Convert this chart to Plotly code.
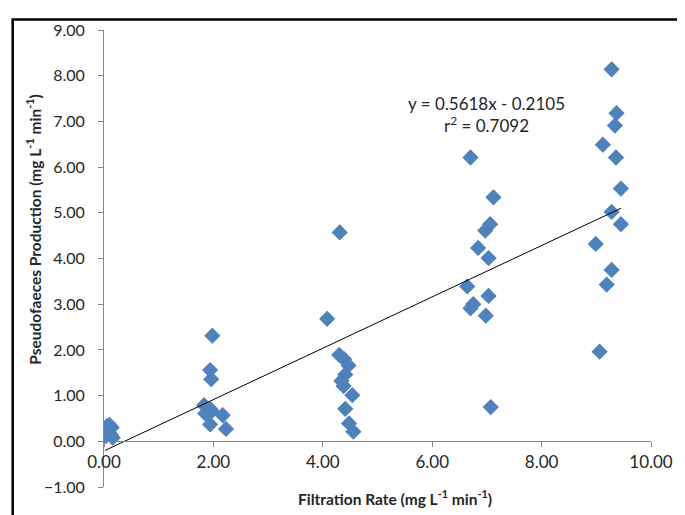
import plotly.graph_objects as go

# Filtration rate (x) and pseudofaeces production (y), mg L-1 min-1
filtration = [0.02, 0.05, 0.10, 0.14, 0.08, 0.12, 0.16, 0.04,
              1.98, 1.94, 1.96, 1.83, 1.94, 1.97, 1.85, 2.17, 1.94, 2.23,
              4.31, 4.08, 4.30, 4.39, 4.47, 4.41, 4.34, 4.38, 4.54, 4.41, 4.48, 4.56,
              6.70, 7.12, 7.06, 6.97, 6.84, 7.03, 6.64, 7.03, 6.75, 6.70, 6.98, 7.07,
              9.28, 9.37, 9.34, 9.12, 9.36, 9.45, 9.28, 9.45, 8.99, 9.28, 9.19, 9.06]
pseudofaeces = [0.25, 0.33, 0.36, 0.30, 0.18, 0.15, 0.08, 0.12,
                2.31, 1.56, 1.36, 0.79, 0.71, 0.66, 0.61, 0.57, 0.37, 0.27,
                4.57, 2.68, 1.89, 1.80, 1.66, 1.46, 1.32, 1.21, 1.01, 0.71, 0.39, 0.21,
                6.21, 5.34, 4.75, 4.61, 4.23, 4.01, 3.39, 3.18, 3.00, 2.91, 2.75, 0.75,
                8.14, 7.18, 6.91, 6.49, 6.21, 5.53, 5.02, 4.75, 4.32, 3.75, 3.43, 1.96]

slope = 0.5618
intercept = -0.2105
r2 = 0.7092

x_ticks = [0, 2, 4, 6, 8, 10]
y_ticks = [-1, 0, 1, 2, 3, 4, 5, 6, 7, 8, 9]

FONT = "Lato"
AXIS_COLOR = "#868686"
TEXT_COLOR = "#262626"

fx = [min(filtration), max(filtration)]
fy = [slope * v + intercept for v in fx]

fig = go.Figure()
fig.add_trace(go.Scatter(
    x=filtration, y=pseudofaeces, mode="markers",
    marker=dict(symbol="diamond", size=12.5, color="#4F81BD",
                line=dict(width=0)),
    showlegend=False, hoverinfo="x+y"))
fig.add_trace(go.Scatter(
    x=fx, y=fy, mode="lines", line=dict(color="#000000", width=1),
    showlegend=False, hoverinfo="skip"))

fig.update_layout(
    width=685, height=515,
    margin=dict(l=96, r=42, t=12, b=36),
    paper_bgcolor="white", plot_bgcolor="white",
    font=dict(family=FONT, size=16, color=TEXT_COLOR),
    xaxis=dict(range=[0, 10], tickvals=x_ticks, tickformat=".2f",
               showgrid=False, zeroline=False, showline=True,
               linecolor=AXIS_COLOR, linewidth=1,
               ticks="outside", ticklen=5, tickcolor=AXIS_COLOR,
               anchor="free", position=0.1, ticklabeloverflow="allow",
               tickfont=dict(family=FONT, size=17, color=TEXT_COLOR)),
    yaxis=dict(range=[-1, 9], tickvals=y_ticks, tickformat=".2f",
               domain=[0, 1], ticklabeloverflow="allow",
               ticklabelstandoff=10,
               showgrid=False, zeroline=False, showline=True,
               linecolor=AXIS_COLOR, linewidth=1,
               ticks="outside", ticklen=5, tickcolor=AXIS_COLOR,
               tickfont=dict(family=FONT, size=16, color=TEXT_COLOR)),
)

fig.add_annotation(
    text="<b>Filtration Rate (mg L<sup>-1</sup> min<sup>-1</sup>)</b>",
    xref="paper", yref="paper", x=0.532, y=-0.0236,
    xanchor="center", yanchor="middle", showarrow=False,
    font=dict(family=FONT, size=15.5, color=TEXT_COLOR))
fig.add_annotation(
    text="<b>Pseudofaeces Production (mg L<sup>-1</sup> min<sup>-1</sup>)</b>",
    xref="paper", yref="paper", x=-0.128, y=0.565, textangle=-90,
    xanchor="center", yanchor="middle", showarrow=False,
    font=dict(family=FONT, size=15.5, color=TEXT_COLOR))
fig.add_annotation(
    text=f"y = {slope:.4f}x - {abs(intercept):.4f}<br>r<sup>2</sup> = {r2:.4f}",
    xref="x", yref="y", x=7.0, y=7.15,
    xanchor="center", yanchor="middle", align="center", showarrow=False,
    font=dict(family=FONT, size=17, color=TEXT_COLOR))

fig.add_shape(type="rect", xref="paper", yref="paper",
              x0=-0.1669, x1=1.053, y0=-0.1, y1=1.0231,
              line=dict(color="black", width=2.5), layer="above")

fig.write_html("out.html")
